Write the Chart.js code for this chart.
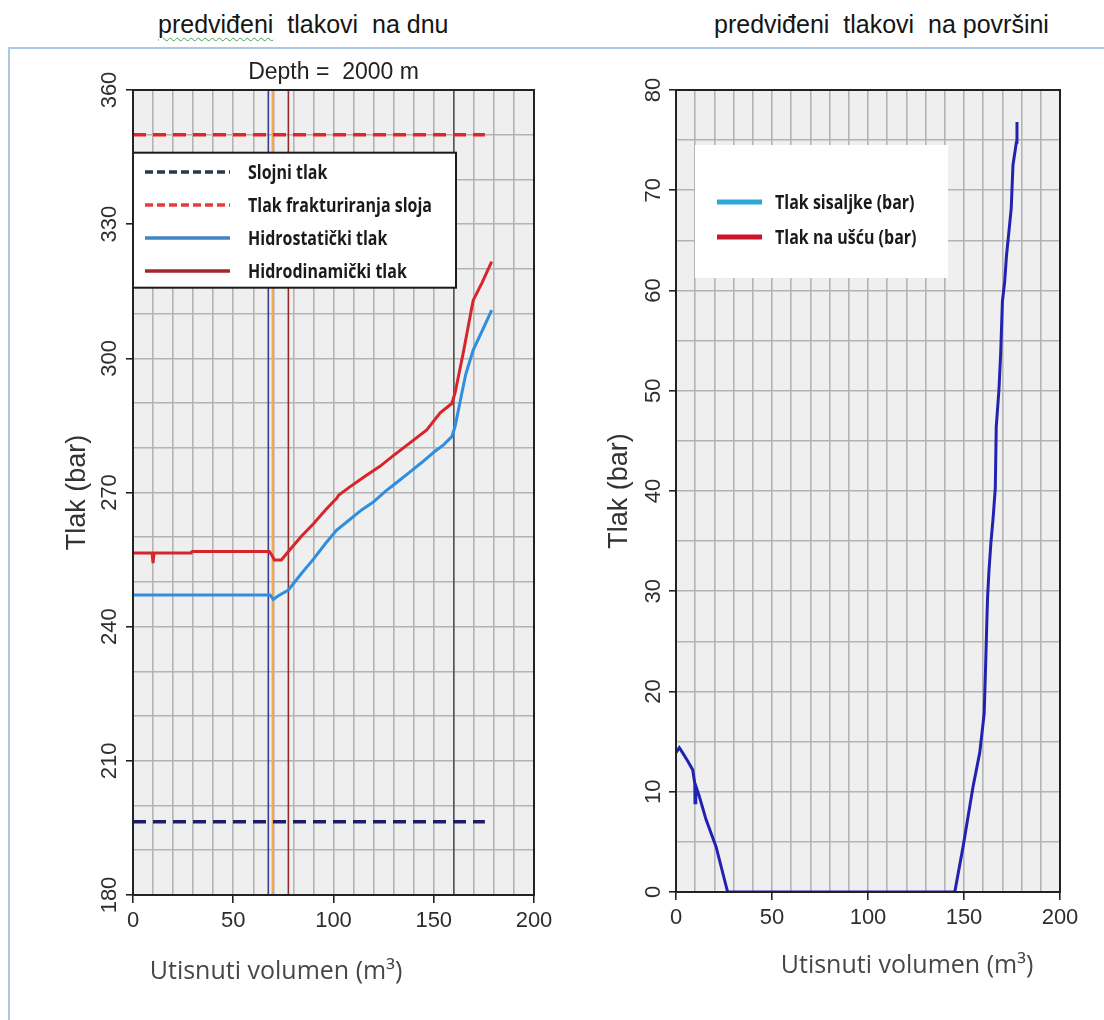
<!DOCTYPE html>
<html>
<head>
<meta charset="utf-8">
<script src="https://cdn.jsdelivr.net/npm/chart.js@4.4.1/dist/chart.umd.min.js"></script>
<style>
  body { margin: 0; width: 1104px; height: 1020px; background: #fff; position: relative; overflow: hidden;
         font-family: "Liberation Sans", Arial, sans-serif; }
  .head { position: absolute; top: 12px; font-size: 25px; line-height: 25px; color: #151515; white-space: pre; }
  .spell { text-decoration: underline wavy #3fa34d; text-decoration-thickness: 1px; text-underline-offset: 4px; }
  .frame { position: absolute; left: 8px; top: 47px; right: -4px; bottom: -4px;
           border-top: 2px solid #a9c7e6; border-left: 2px solid #a9c7e6; }
  #left { position: absolute; left: 0; top: 50px; }
  #right { position: absolute; left: 560px; top: 50px; }
</style>
</head>
<body>
<div class="head" style="left:158px"><span class="spell">predviđeni</span>  tlakovi  na dnu</div>
<div class="head" style="left:714px">predviđeni  tlakovi  na površini</div>
<div class="frame"></div>
<canvas id="left" width="560" height="970"></canvas>
<canvas id="right" width="544" height="970"></canvas>
<script>
// ---- data: bottom-hole pressures (left) ----
const xLabels = [0, 50, 100, 150, 200];
const leftYLabels = [180, 210, 240, 270, 300, 330, 360];
const rightYLabels = [0, 10, 20, 30, 40, 50, 60, 70, 80];

const hsVol = [0, 68.3, 70, 72.5, 77.5, 84, 90, 96, 101.6, 108, 114, 119.7, 126, 132, 138.2, 144, 150, 155, 159, 160.6, 164, 166, 169.7, 174, 178.9];
const hsP   = [247.1, 247.1, 246.1, 246.9, 248.2, 251.9, 255.1, 258.6, 261.6, 263.9, 266.1, 267.8, 270.3, 272.4, 274.6, 276.7, 279.0, 280.7, 282.5, 284.7, 292.2, 296.5, 301.9, 306.0, 310.8];

const hdVol = [0, 9.5, 10, 10.5, 29, 29.5, 68, 69.5, 70.5, 74, 77.5, 84, 90, 96, 100, 101.6, 102.5, 108, 115, 123, 130, 137, 146.5, 153.2, 159, 160.6, 164.7, 168.9, 169.7, 174, 178.9];
const hdP   = [256.5, 256.5, 254.2, 256.5, 256.5, 256.8, 256.8, 255.8, 254.9, 254.9, 256.8, 260.2, 263.0, 266.1, 268.0, 268.7, 269.4, 271.2, 273.4, 275.8, 278.3, 280.7, 284.0, 287.8, 289.9, 292.2, 301.2, 311.2, 313.0, 316.8, 321.6];

const fracVol = [0, 175.5];
const fracP   = [350, 350];
const layerVol = [0, 175.5];
const layerP   = [196.4, 196.4];

const markerVol = [67.5, 69.5, 77.5, 160];
const markerP   = [180, 360];

// ---- data: surface pressure (right) ----
const surfVol = [0, 1.7, 3.4, 6, 8.7, 9.8, 9.9, 10.3, 12.2, 15.7, 20.9, 26.9, 145.2, 149.5, 154.7, 158.2, 160.5, 161.3, 161.9, 162.3, 163, 164, 165.2, 166.3, 166.8, 168.2, 169.1, 170, 171.2, 172.1, 173.3, 174.6, 175.5, 177.3, 177.6];
const surfP   = [13.9, 14.4, 13.9, 13.1, 12.2, 10.8, 8.9, 10.6, 9.5, 7.2, 4.5, 0, 0, 4.5, 10.5, 13.9, 17.8, 22.8, 27.0, 29.5, 32.0, 34.8, 37.4, 40.3, 46.4, 50.1, 53.7, 58.9, 60.9, 63.4, 65.7, 68.2, 72.5, 74.8, 76.8];

const leftLabels  = ['Slojni tlak', 'Tlak frakturiranja sloja', 'Hidrostatički tlak', 'Hidrodinamički tlak'];
const rightLabels = ['Tlak sisaljke (bar)', 'Tlak na ušću (bar)'];
const xTitleText = 'Utisnuti volumen (m³)';

// ---- styles ----
const SANS = '"Liberation Sans", Arial, sans-serif';
const GRID = '#b3b3b3';
const TICK = '#222';
const markerColors = ['#3b3b8f', '#f3a64c', '#8f2b2b', '#555555'];

const pts = (xs, ys) => xs.map((x, i) => ({ x, y: ys[i] }));

function buildScales(c) {
  return {
    x: {
      type: 'linear', min: 0, max: 200,
      afterFit: s => { s.height = c.xH; },
      border: { display: false },
      grid: {
        color: GRID, lineWidth: 1.6, tickLength: 8, tickWidth: 1.6,
        tickColor: ctx => ctx.tick && xLabels.includes(ctx.tick.value) ? TICK : 'rgba(0,0,0,0)'
      },
      ticks: {
        stepSize: 10, autoSkip: false, maxRotation: 0, padding: 5,
        color: '#2e2e2e', font: { family: SANS, size: 22 },
        callback: v => xLabels.includes(v) ? String(v) : ''
      },
      title: { display: false }
    },
    y: {
      type: 'linear', min: c.yMin, max: c.yMax,
      afterFit: s => { s.width = c.yW; },
      border: { display: false },
      grid: {
        color: GRID, lineWidth: 1.6, tickLength: 7, tickWidth: 1.6,
        tickColor: ctx => ctx.tick && c.yLabels.includes(ctx.tick.value) ? TICK : 'rgba(0,0,0,0)'
      },
      ticks: {
        stepSize: c.yStep, autoSkip: false, minRotation: 90, maxRotation: 90,
        crossAlign: 'center', padding: c.yPad,
        color: '#2e2e2e', font: { family: SANS, size: 22 },
        callback: v => c.yLabels.includes(v) ? String(v) : ''
      },
      title: {
        display: true, text: 'Tlak (bar)', color: '#333',
        font: { family: SANS, size: 27 }, padding: 0
      }
    }
  };
}

// background, legend box, x title and frame around the plot
const plotFrame = {
  id: 'plotFrame',
  beforeDraw(chart) {
    const { ctx, chartArea: a } = chart;
    ctx.save();
    ctx.fillStyle = '#efefef';
    ctx.fillRect(a.left, a.top, a.right - a.left, a.bottom - a.top);
    ctx.restore();
  },
  afterDraw(chart, args, o) {
    const { ctx, chartArea: a } = chart;
    const L = o.legend;
    ctx.save();
    if (L) {
      const bx = a.left + L.x, by = a.top + L.y;
      ctx.fillStyle = '#fff';
      ctx.fillRect(bx, by, L.w, L.h);
      if (L.border) {
        ctx.strokeStyle = '#1a1a1a';
        ctx.lineWidth = 2;
        ctx.strokeRect(bx, by, L.w, L.h);
      }
      L.items.forEach((it, i) => {
        const y = by + L.row0 + i * L.gap;
        ctx.strokeStyle = it.color;
        ctx.lineWidth = L.lw;
        ctx.setLineDash(it.dash || []);
        ctx.beginPath();
        ctx.moveTo(bx + L.lx0, y);
        ctx.lineTo(bx + L.lx1, y);
        ctx.stroke();
        ctx.setLineDash([]);
        ctx.save();
        ctx.translate(bx + L.tx, y);
        ctx.scale(L.sx, 1);
        ctx.fillStyle = '#1a1a1a';
        ctx.font = 'bold ' + L.fs + 'px "Open Sans", sans-serif';
        ctx.textBaseline = 'middle';
        ctx.fillText(it.text, 0, 1);
        ctx.restore();
      });
    }
    if (o.xTitle) {
      ctx.fillStyle = '#474747';
      ctx.font = '25px "Open Sans", sans-serif';
      ctx.textAlign = 'center';
      ctx.textBaseline = 'middle';
      ctx.fillText(xTitleText, a.left + o.xTitle.dx, o.xTitle.y);
    }
    ctx.strokeStyle = '#222';
    ctx.lineWidth = 2;
    ctx.strokeRect(a.left, a.top, a.right - a.left, a.bottom - a.top);
    ctx.restore();
  }
};

const lineDefaults = { pointRadius: 0, tension: 0, fill: false };

new Chart(document.getElementById('left'), {
  type: 'line',
  data: {
    datasets: [
      { ...lineDefaults, label: leftLabels[3], data: pts(hdVol, hdP), borderColor: '#d7262b', borderWidth: 3 },
      { ...lineDefaults, label: leftLabels[2], data: pts(hsVol, hsP), borderColor: '#2e8fe0', borderWidth: 3 },
      { ...lineDefaults, label: leftLabels[1], data: pts(fracVol, fracP), borderColor: '#e3242b', borderWidth: 3.5, borderDash: [13, 7] },
      { ...lineDefaults, label: leftLabels[0], data: pts(layerVol, layerP), borderColor: '#1b1f6b', borderWidth: 3.5, borderDash: [13, 7] },
      ...markerVol.map((v, i) => ({
        ...lineDefaults, label: 'marker', data: pts([v, v], markerP),
        borderColor: markerColors[i], borderWidth: 1.6
      }))
    ]
  },
  options: {
    responsive: false, animation: false, devicePixelRatio: 1,
    layout: { padding: { left: 61.8, right: 26, top: 2.4, bottom: 30.2 } },
    scales: buildScales({ yMin: 180, yMax: 360, yStep: 10, yLabels: leftYLabels, yW: 71.2, yPad: -2.4, xH: 94.8 }),
    plugins: {
      legend: { display: false },
      tooltip: { enabled: false },
      title: {
        display: true, text: 'Depth =  2000 m', fullSize: false, color: '#222',
        font: { family: SANS, size: 23, weight: 'normal' }, padding: { top: 6, bottom: 4 }
      },
      plotFrame: {
        xTitle: { dx: 143, y: 922 },
        legend: {
          x: 0, y: 62.7, w: 323, h: 135, border: true, lw: 3.5, fs: 20, sx: 0.8,
          row0: 19.3, gap: 33, lx0: 12, lx1: 97, tx: 115,
          items: [
            { text: leftLabels[0], color: '#2a3550', dash: [8, 4] },
            { text: leftLabels[1], color: '#e43d3d', dash: [8, 4] },
            { text: leftLabels[2], color: '#3f86c2' },
            { text: leftLabels[3], color: '#a4262a' }
          ]
        }
      }
    }
  },
  plugins: [plotFrame]
});

new Chart(document.getElementById('right'), {
  type: 'line',
  data: {
    datasets: [
      { ...lineDefaults, label: rightLabels[0], data: pts(surfVol, surfP), borderColor: '#2222b0', borderWidth: 3 }
    ]
  },
  options: {
    responsive: false, animation: false, devicePixelRatio: 1,
    layout: { padding: { left: 43.8, right: 44, top: 40, bottom: 36.2 } },
    scales: buildScales({ yMin: 0, yMax: 80, yStep: 5, yLabels: rightYLabels, yW: 72.2, yPad: 3.2, xH: 91.8 }),
    plugins: {
      legend: { display: false },
      tooltip: { enabled: false },
      plotFrame: {
        xTitle: { dx: 231, y: 916 },
        legend: {
          x: 19, y: 55, w: 253, h: 133, border: false, lw: 5, fs: 20, sx: 0.8,
          row0: 57, gap: 35, lx0: 22, lx1: 67, tx: 80,
          items: [
            { text: rightLabels[0], color: '#2ba7d8' },
            { text: rightLabels[1], color: '#c9162b' }
          ]
        }
      }
    }
  },
  plugins: [plotFrame]
});
</script>
</body>
</html>
